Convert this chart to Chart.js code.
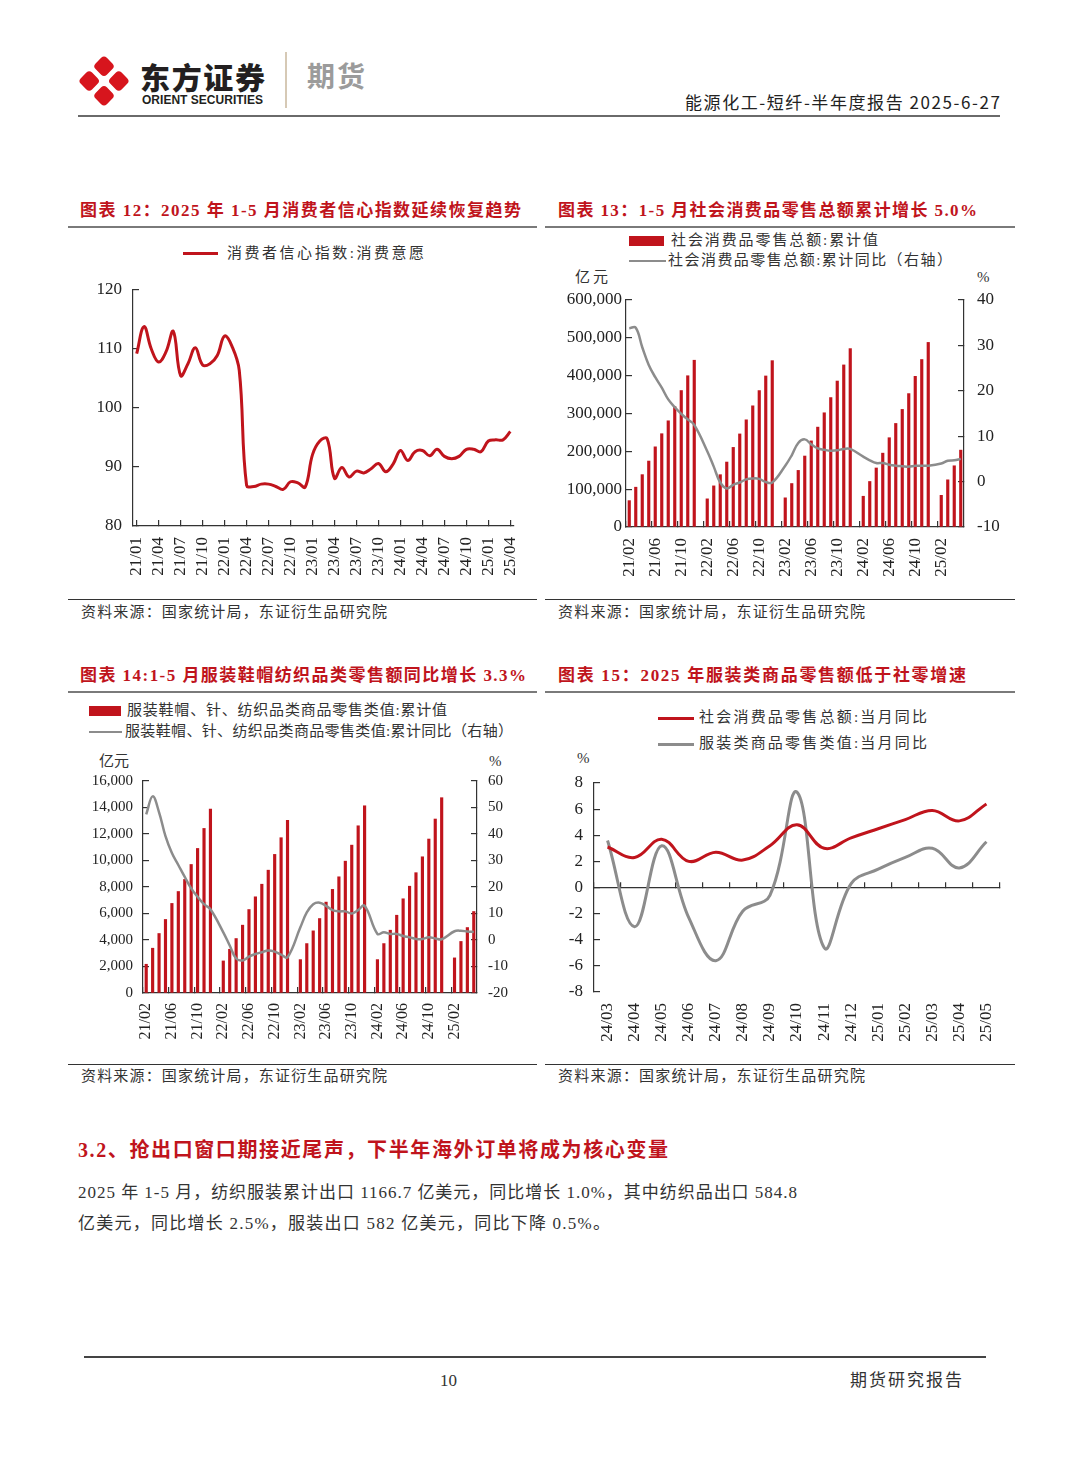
<!DOCTYPE html>
<html>
<head>
<meta charset="utf-8">
<script src="https://cdn.jsdelivr.net/npm/chart.js@4.4.1/dist/chart.umd.min.js"></script>
<style>
  body { margin: 0; background: #fff; width: 1080px; height: 1466px; position: relative; overflow: hidden;
         font-family: 'Liberation Serif', 'Noto Sans CJK SC', serif; color: #222; }
  .t { position: absolute; white-space: nowrap; line-height: 1; }
  .title { color: #c0141c; font-weight: bold; font-size: 17px; }
  .leg { font-size: 15px; color: #333; }
  .src { font-size: 15px; color: #333; }
  .rule { position: absolute; }
  canvas { position: absolute; }
</style>
</head>
<body>

<!-- header -->
<svg style="position:absolute;left:78px;top:54px" width="52" height="54" viewBox="0 0 52 54">
  <g transform="translate(26,27) rotate(45)" fill="#d7151d">
    <rect x="-18.4" y="-18.4" width="15.9" height="15.9" rx="4"/>
    <rect x="2.5" y="-18.4" width="15.9" height="15.9" rx="4"/>
    <rect x="-18.4" y="2.5" width="15.9" height="15.9" rx="4"/>
    <rect x="2.5" y="2.5" width="15.9" height="15.9" rx="4"/>
  </g>
</svg>
<div class="t" data-w="125" style="left:140px;top:61px;font-size:30px;font-weight:900;font-family:'Noto Sans CJK SC';color:#231f20">东方证券</div>
<div class="t" data-w="121" style="left:142px;top:94px;font-size:12px;font-weight:bold;font-family:'Liberation Sans';color:#231f20">ORIENT SECURITIES</div>
<div class="rule" style="left:285px;top:52px;width:2px;height:56px;background:#d6c9b5"></div>
<div class="t" data-w="58" style="left:307px;top:61px;font-size:28px;font-weight:bold;font-family:'Noto Sans CJK SC';color:#9b9b9b">期货</div>
<div class="t" data-w="315" style="left:685px;top:93px;font-size:17px;font-family:'Noto Sans CJK SC';color:#222">能源化工-短纤-半年度报告 2025-6-27</div>
<div class="rule" style="left:78px;top:115px;width:922px;height:2px;background:#6a6a6a"></div>

<!-- row 1 -->
<div class="t title" data-w="441" style="left:80px;top:202px">图表 12：2025 年 1-5 月消费者信心指数延续恢复趋势</div>
<div class="t title" data-w="419" style="left:558px;top:202px">图表 13：1-5 月社会消费品零售总额累计增长 5.0%</div>
<div class="rule" style="left:68px;top:226px;width:469px;height:2px;background:#7a7a7a"></div>
<div class="rule" style="left:545px;top:226px;width:470px;height:2px;background:#7a7a7a"></div>

<div class="rule" style="left:183px;top:252px;width:35px;height:3px;background:#c0141c"></div>
<div class="t leg" data-w="197" style="left:227px;top:246px">消费者信心指数:消费意愿</div>

<div class="rule" style="left:629px;top:236px;width:35px;height:10px;background:#c0141c"></div>
<div class="t leg" data-w="207" style="left:671px;top:233px">社会消费品零售总额:累计值</div>
<div class="rule" style="left:629px;top:260px;width:37px;height:2px;background:#8c8c8c"></div>
<div class="t leg" data-w="284" style="left:668px;top:253px">社会消费品零售总额:累计同比（右轴）</div>
<div class="t leg" data-w="33" style="left:575px;top:270px">亿元</div>
<div class="t leg" style="left:977px;top:270px">%</div>

<canvas id="c12" width="470" height="320" style="left:68px;top:270px"></canvas>
<canvas id="c13" width="470" height="310" style="left:545px;top:280px"></canvas>

<div class="rule" style="left:68px;top:599px;width:469px;height:1px;background:#333"></div>
<div class="rule" style="left:545px;top:599px;width:470px;height:1px;background:#333"></div>
<div class="t src" data-w="306" style="left:81px;top:605px">资料来源：国家统计局，东证衍生品研究院</div>
<div class="t src" data-w="307" style="left:558px;top:605px">资料来源：国家统计局，东证衍生品研究院</div>

<!-- row 2 -->
<div class="t title" data-w="446" style="left:80px;top:667px">图表 14:1-5 月服装鞋帽纺织品类零售额同比增长 3.3%</div>
<div class="t title" data-w="408" style="left:558px;top:667px">图表 15：2025 年服装类商品零售额低于社零增速</div>
<div class="rule" style="left:68px;top:691px;width:469px;height:2px;background:#7a7a7a"></div>
<div class="rule" style="left:545px;top:691px;width:470px;height:2px;background:#7a7a7a"></div>

<div class="rule" style="left:89px;top:706px;width:32px;height:10px;background:#c0141c"></div>
<div class="t leg" data-w="320" style="left:127px;top:703px">服装鞋帽、针、纺织品类商品零售类值:累计值</div>
<div class="rule" style="left:89px;top:731px;width:33px;height:2px;background:#8c8c8c"></div>
<div class="t leg" data-w="388" style="left:125px;top:724px">服装鞋帽、针、纺织品类商品零售类值:累计同比（右轴）</div>
<div class="t leg" data-w="30" style="left:99px;top:754px">亿元</div>
<div class="t leg" style="left:489px;top:754px">%</div>

<div class="rule" style="left:658px;top:717px;width:36px;height:3px;background:#c0141c"></div>
<div class="t leg" data-w="228" style="left:699px;top:710px">社会消费品零售总额:当月同比</div>
<div class="rule" style="left:658px;top:743px;width:36px;height:3px;background:#8c8c8c"></div>
<div class="t leg" data-w="228" style="left:699px;top:736px">服装类商品零售类值:当月同比</div>
<div class="t leg" style="left:577px;top:751px">%</div>

<canvas id="c14" width="470" height="290" style="left:68px;top:765px"></canvas>
<canvas id="c15" width="470" height="290" style="left:545px;top:765px"></canvas>

<div class="rule" style="left:68px;top:1064px;width:469px;height:1px;background:#333"></div>
<div class="rule" style="left:545px;top:1064px;width:470px;height:1px;background:#333"></div>
<div class="t src" data-w="306" style="left:81px;top:1069px">资料来源：国家统计局，东证衍生品研究院</div>
<div class="t src" data-w="307" style="left:558px;top:1069px">资料来源：国家统计局，东证衍生品研究院</div>

<!-- text -->
<div class="t" data-w="590" style="left:78px;top:1140px;font-size:20px;font-weight:bold;color:#c0141c">3.2、抢出口窗口期接近尾声，下半年海外订单将成为核心变量</div>
<div class="t" data-w="719" style="left:78px;top:1184px;font-size:17px;color:#333">2025 年 1-5 月，纺织服装累计出口 1166.7 亿美元，同比增长 1.0%，其中纺织品出口 584.8</div>
<div class="t" data-w="532" style="left:78px;top:1215px;font-size:17px;color:#333">亿美元，同比增长 2.5%，服装出口 582 亿美元，同比下降 0.5%。</div>

<!-- footer -->
<div class="rule" style="left:84px;top:1356px;width:902px;height:2px;background:#444"></div>
<div class="t" style="left:440px;top:1372px;font-size:17px;color:#333">10</div>
<div class="t" data-w="112" style="left:850px;top:1372px;font-size:17px;color:#333">期货研究报告</div>

<script>
const FONT = "'Liberation Serif', 'Noto Sans CJK SC', serif";
const RED = '#c0141c';
const GREY = '#8c8c8c';
const AXIS = '#333';

// 图表12 消费者信心指数:消费意愿
const confLabels = [
  '21/01','21/02','21/03','21/04','21/05','21/06','21/07','21/08','21/09','21/10','21/11','21/12',
  '22/01','22/02','22/03','22/04','22/05','22/06','22/07','22/08','22/09','22/10','22/11','22/12',
  '23/01','23/02','23/03','23/04','23/05','23/06','23/07','23/08','23/09','23/10','23/11','23/12',
  '24/01','24/02','24/03','24/04','24/05','24/06','24/07','24/08','24/09','24/10','24/11','24/12',
  '25/01','25/02','25/03','25/04'
];
const confValues = [
  109.2, 113.8, 110.0, 107.8, 109.5, 113.0, 105.5, 107.5, 110.2, 107.3, 107.5, 108.9,
  112.2, 110.5, 106.4, 86.9, 86.7, 87.1, 87.1, 86.7, 86.2, 87.5, 87.3, 86.6,
  92.1, 94.4, 94.8, 88.1, 89.9, 88.3, 89.3, 89.0, 89.7, 90.6, 89.2, 90.5,
  92.8, 91.1, 92.6, 92.8, 91.9, 93.0, 91.8, 91.4, 91.8, 93.0, 93.0, 92.6,
  94.4, 94.6, 94.6, 96.0
];

// 图表13/14 累计值(1月无单独数据)
const cumLabels = [
  '21/02','21/03','21/04','21/05','21/06','21/07','21/08','21/09','21/10','21/11','21/12',
  '22/01','22/02','22/03','22/04','22/05','22/06','22/07','22/08','22/09','22/10','22/11','22/12',
  '23/01','23/02','23/03','23/04','23/05','23/06','23/07','23/08','23/09','23/10','23/11','23/12',
  '24/01','24/02','24/03','24/04','24/05','24/06','24/07','24/08','24/09','24/10','24/11','24/12',
  '25/01','25/02','25/03','25/04','25/05'
];
const retailCum = [
  69700, 105200, 138400, 174300, 211900, 246600, 280700, 318100, 360700, 399800, 440800,
  null, 74400, 108700, 138300, 171700, 210400, 246000, 283300, 320300, 360600, 399200, 439700,
  null, 77100, 114900, 149600, 187600, 227600, 264000, 301900, 342100, 385800, 428400, 471500,
  null, 81300, 120300, 156000, 195200, 236000, 273700, 310800, 352600, 398200, 442700, 487900,
  null, 83700, 124700, 161800, 203200
];
const retailCumYoy = [
  33.8, 33.9, 29.6, 25.7, 23.0, 20.7, 18.1, 16.4, 14.9, 13.7, 12.5,
  null, 6.7, 3.3, -0.2, -1.5, -0.7, -0.2, 0.5, 0.7, 0.6, -0.1, -0.2,
  null, 3.5, 5.8, 8.5, 9.3, 8.2, 7.3, 7.0, 6.8, 6.9, 7.2, 7.2,
  null, 5.5, 4.7, 4.1, 4.1, 3.7, 3.5, 3.4, 3.3, 3.5, 3.5, 3.5,
  null, 4.0, 4.6, 4.7, 5.0
];
const apparelCum = [
  2170, 3380, 4490, 5550, 6760, 7660, 8570, 9700, 10910, 12420, 13880,
  null, 2420, 3300, 4110, 5120, 6300, 7260, 8210, 9270, 10460, 11720, 13030,
  null, 2520, 3730, 4690, 5620, 6860, 7820, 8770, 9950, 11160, 12620, 14130,
  null, 2520, 3730, 4740, 5870, 7110, 8060, 9080, 10280, 11620, 13130, 14740,
  null, 2650, 3890, 4940, 6150
];
const apparelCumYoy = [
  47.4, 54.2, 48.2, 39.2, 32.8, 28.3, 23.8, 19.5, 16.3, 13.5, 11.6,
  null, 2.9, -2.1, -7.0, -7.7, -6.3, -5.3, -4.6, -4.0, -4.4, -5.5, -6.5,
  null, 4.8, 10.4, 13.5, 14.1, 12.9, 11.3, 10.8, 10.8, 10.0, 11.3, 12.9,
  null, 2.3, 2.9, 2.3, 2.3, 1.5, 1.0, 0.4, 0.4, 1.0, 0.6, 0.3,
  null, 3.3, 3.5, 3.2, 3.0
];

// 图表15 当月同比
const monthLabels = ['24/03','24/04','24/05','24/06','24/07','24/08','24/09','24/10','24/11','24/12','25/01','25/02','25/03','25/04','25/05'];
const retailMonthYoy = [3.1, 2.3, 3.7, 2.0, 2.7, 2.1, 3.2, 4.8, 3.0, 3.8, 4.5, 5.2, 5.9, 5.1, 6.4];
const clothingMonthYoy = [3.6, -3.0, 3.2, -2.3, -5.6, -1.8, -0.6, 7.3, -4.6, 0.3, 1.4, 2.3, 3.0, 1.5, 3.5];

// stretch the html texts to the widths they take in the report
document.querySelectorAll('[data-w]').forEach(el => {
  el.style.letterSpacing = '0px';
  const w = el.getBoundingClientRect().width;
  const n = [...el.textContent].length;
  el.style.letterSpacing = ((+el.dataset.w - w) / (n - 1)) + 'px';
});

function valueAxis(o) {
  return {
    type: 'linear',
    position: o.position,
    min: o.min,
    max: o.max,
    // fixed width, and no extra room asked for the end labels
    afterFit: s => { s.width = o.width; s.paddingTop = 0; s.paddingBottom = 0; },
    border: { display: true, color: AXIS, width: 1.2 },
    grid: { drawOnChartArea: false, tickLength: -6, color: AXIS, lineWidth: 1.2 },
    ticks: {
      stepSize: o.step, padding: o.pad, color: '#222',
      font: { family: FONT, size: o.size },
      callback: o.fmt || (v => v)
    }
  };
}

function monthAxis(o) {
  return {
    type: 'category',
    offset: o.offset,
    afterFit: s => { s.height = o.height; s.paddingLeft = 0; s.paddingRight = 0; },
    border: { display: true, color: AXIS, width: 1.2 },
    grid: {
      drawOnChartArea: false, tickLength: -6, offset: o.gridOffset, lineWidth: 1.2,
      color: c => (c.index % o.every === 0 ? AXIS : 'rgba(0,0,0,0)')
    },
    ticks: {
      autoSkip: false, minRotation: 90, maxRotation: 90, padding: o.pad, color: '#222',
      font: { family: FONT, size: o.size },
      callback: function (v, i) { return i % o.every === 0 ? this.getLabelForValue(v) : ''; }
    }
  };
}

function baseOptions(padding, scales) {
  return {
    responsive: false,
    animation: false,
    layout: { padding: padding },
    plugins: { legend: { display: false }, tooltip: { enabled: false } },
    scales: scales
  };
}

const commas = v => v.toLocaleString('en-US');

new Chart(document.getElementById('c12'), {
  type: 'line',
  data: {
    labels: confLabels,
    datasets: [{ data: confValues, borderColor: RED, borderWidth: 3, pointRadius: 0, tension: 0.4 }]
  },
  options: baseOptions({ top: 20, right: 24 }, {
    x: monthAxis({ every: 3, offset: true, gridOffset: false, height: 64, pad: 17, size: 17 }),
    y: valueAxis({ position: 'left', min: 80, max: 120, step: 10, width: 65, pad: 17, size: 17 })
  })
});

new Chart(document.getElementById('c13'), {
  type: 'bar',
  data: {
    labels: cumLabels,
    datasets: [
      { type: 'line', data: retailCumYoy, yAxisID: 'y2', borderColor: GREY, borderWidth: 2.5,
        pointRadius: 0, tension: 0.4, spanGaps: true, order: 0 },
      { type: 'bar', data: retailCum, yAxisID: 'y', backgroundColor: RED, barThickness: 2.5, order: 1 }
    ]
  },
  options: baseOptions({ top: 20 }, {
    x: monthAxis({ every: 4, offset: true, gridOffset: true, height: 63, pad: 17, size: 17 }),
    y: valueAxis({ position: 'left', min: 0, max: 600000, step: 100000, width: 81, pad: 10, size: 17, fmt: commas }),
    y2: valueAxis({ position: 'right', min: -10, max: 40, step: 10, width: 51, pad: 19, size: 17 })
  })
});

new Chart(document.getElementById('c14'), {
  type: 'bar',
  data: {
    labels: cumLabels,
    datasets: [
      { type: 'line', data: apparelCumYoy, yAxisID: 'y2', borderColor: GREY, borderWidth: 2.5,
        pointRadius: 0, tension: 0.4, spanGaps: true, order: 0 },
      { type: 'bar', data: apparelCum, yAxisID: 'y', backgroundColor: RED, barThickness: 2.5, order: 1 }
    ]
  },
  options: baseOptions({ top: 16 }, {
    x: monthAxis({ every: 4, offset: true, gridOffset: true, height: 62, pad: 16, size: 16 }),
    y: valueAxis({ position: 'left', min: 0, max: 16000, step: 2000, width: 75, pad: 16, size: 15, fmt: commas }),
    y2: valueAxis({ position: 'right', min: -20, max: 60, step: 10, width: 61, pad: 17, size: 15 })
  })
});

new Chart(document.getElementById('c15'), {
  type: 'line',
  data: {
    labels: monthLabels,
    datasets: [
      { data: retailMonthYoy, xAxisID: 'x', borderColor: RED, borderWidth: 3, pointRadius: 0, tension: 0.4 },
      { data: clothingMonthYoy, xAxisID: 'x', borderColor: GREY, borderWidth: 3, pointRadius: 0, tension: 0.4 }
    ]
  },
  options: baseOptions({ top: 18, right: 15 }, {
    x: {
      type: 'category',
      position: { y: 0 },
      offset: true,
      afterFit: s => { s.paddingLeft = 0; s.paddingRight = 0; },
      border: { display: true, color: AXIS, width: 1.2 },
      grid: { drawOnChartArea: false, tickLength: -6, offset: true, color: AXIS, lineWidth: 1.2 },
      ticks: { display: false }
    },
    x2: {
      type: 'category',
      labels: monthLabels,
      position: 'bottom',
      offset: true,
      afterFit: s => { s.height = 63; s.paddingLeft = 0; s.paddingRight = 0; },
      border: { display: false },
      grid: { display: false, drawTicks: false },
      ticks: { autoSkip: false, minRotation: 90, maxRotation: 90, padding: 11, color: '#222',
               font: { family: FONT, size: 17 } }
    },
    y: valueAxis({ position: 'left', min: -8, max: 8, step: 2, width: 49, pad: 17, size: 17 })
  })
});
</script>
</body>
</html>
